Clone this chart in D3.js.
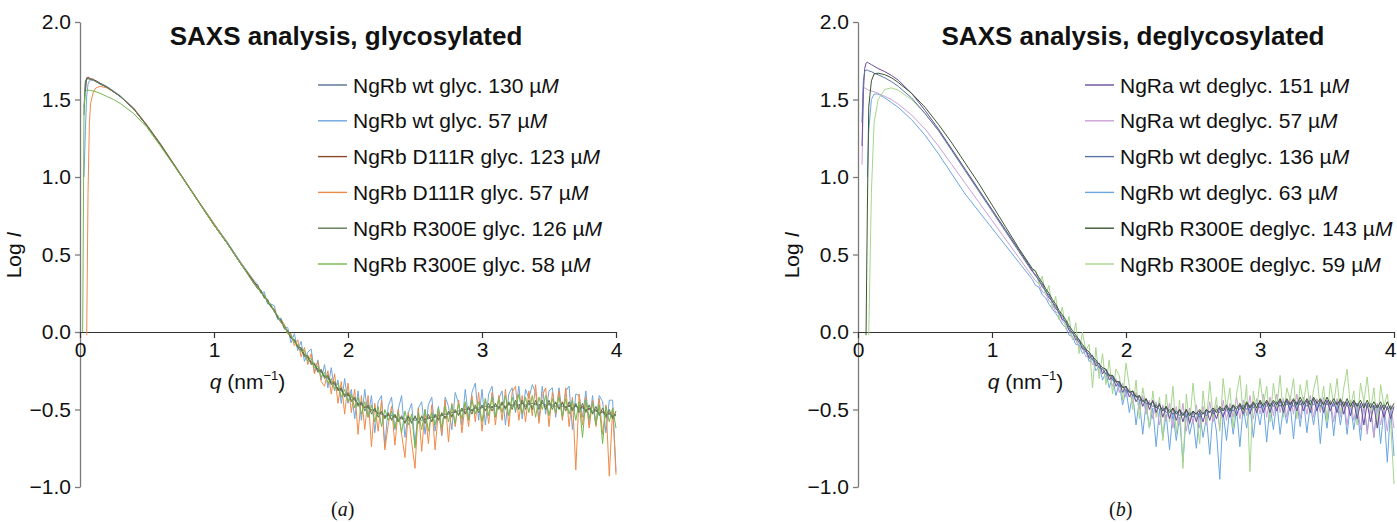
<!DOCTYPE html>
<html><head><meta charset="utf-8">
<script src="https://cdn.jsdelivr.net/npm/d3@7"></script>
<style>
body{margin:0;background:#fff}
text{font-family:"Liberation Sans",Arial,Helvetica,sans-serif;fill:#111}
</style>
</head><body>
<svg id="chart" width="1397" height="522"></svg>
<script>
// ---------- DATA ----------
const qValues = [
0.02,0.03,0.04,0.05,0.06,0.07,0.08,0.1,0.12,0.15,0.2,0.25,
0.3,0.4,0.5,0.6,0.7,0.8,0.9,1.0,1.1,1.2,1.3,
1.325,1.35,1.375,1.4,1.425,1.45,1.475,1.5,1.525,1.55,
1.575,1.6,1.625,1.65,1.675,1.7,1.725,1.75,1.775,1.8,
1.825,1.85,1.875,1.9,1.925,1.95,1.975,2.0,2.025,2.05,
2.075,2.1,2.125,2.15,2.175,2.2,2.225,2.25,2.275,2.3,
2.325,2.35,2.375,2.4,2.425,2.45,2.475,2.5,2.525,2.55,
2.575,2.6,2.625,2.65,2.675,2.7,2.725,2.75,2.775,2.8,
2.825,2.85,2.875,2.9,2.925,2.95,2.975,3.0,3.025,3.05,
3.075,3.1,3.125,3.15,3.175,3.2,3.225,3.25,3.275,3.3,
3.325,3.35,3.375,3.4,3.425,3.45,3.475,3.5,3.525,3.55,
3.575,3.6,3.625,3.65,3.675,3.7,3.725,3.75,3.775,3.8,
3.825,3.85,3.875,3.9,3.925,3.95,3.975,4.0];

// Panel (a) glycosylated
const glycWt130 = [
null,1.45,1.62,1.635,1.635,1.63,1.63,1.625,1.615,1.60,1.58,1.55,
1.52,1.44,1.33,1.21,1.08,0.95,0.82,0.69,0.57,0.44,0.32,
0.29,0.26,0.23,0.20,0.17,0.13,0.10,0.07,0.03,0.00,
-0.03,-0.06,-0.09,-0.12,-0.14,-0.17,-0.19,-0.21,-0.24,-0.26,
-0.28,-0.30,-0.32,-0.34,-0.36,-0.38,-0.40,-0.41,-0.42,-0.44,
-0.46,-0.47,-0.48,-0.49,-0.50,-0.51,-0.52,-0.53,-0.54,-0.54,
-0.54,-0.55,-0.56,-0.56,-0.56,-0.57,-0.56,-0.57,-0.56,-0.57,
-0.56,-0.56,-0.55,-0.55,-0.54,-0.54,-0.53,-0.53,-0.52,-0.52,
-0.51,-0.51,-0.50,-0.50,-0.50,-0.49,-0.49,-0.49,-0.48,-0.49,
-0.48,-0.48,-0.48,-0.47,-0.48,-0.47,-0.47,-0.47,-0.47,-0.46,
-0.47,-0.47,-0.46,-0.47,-0.47,-0.46,-0.47,-0.47,-0.47,-0.48,
-0.47,-0.48,-0.48,-0.48,-0.49,-0.48,-0.49,-0.49,-0.50,-0.50,
-0.51,-0.51,-0.52,-0.52,-0.53,-0.53,-0.54,-0.54];
const glycWt57 = [
null,1.00,1.30,1.52,1.60,1.62,1.625,1.625,1.62,1.605,1.585,1.555,
1.525,1.445,1.335,1.215,1.085,0.955,0.825,0.70,0.58,0.45,0.33,
0.31,0.25,0.26,0.18,0.18,0.17,0.08,0.09,0.03,0.03,
-0.07,-0.01,-0.12,-0.06,-0.19,-0.13,-0.11,-0.26,-0.18,-0.31,
-0.21,-0.36,-0.23,-0.38,-0.31,-0.46,-0.30,-0.46,-0.37,-0.56,
-0.38,-0.57,-0.37,-0.55,-0.41,-0.65,-0.45,-0.41,-0.74,-0.48,
-0.42,-0.63,-0.50,-0.41,-0.68,-0.52,-0.46,-0.73,-0.49,-0.45,
-0.66,-0.47,-0.42,-0.64,-0.48,-0.67,-0.42,-0.48,-0.63,-0.39,
-0.46,-0.60,-0.37,-0.56,-0.39,-0.33,-0.57,-0.37,-0.60,-0.40,
-0.35,-0.55,-0.43,-0.38,-0.60,-0.40,-0.36,-0.52,-0.35,-0.56,
-0.37,-0.43,-0.34,-0.39,-0.57,-0.35,-0.53,-0.38,-0.36,-0.55,
-0.36,-0.55,-0.38,-0.35,-0.63,-0.40,-0.41,-0.55,-0.38,-0.60,
-0.41,-0.59,-0.41,-0.45,-0.65,-0.44,-0.44,-0.90];
const glycD111R123 = [
null,null,1.55,1.64,1.645,1.64,1.635,1.63,1.62,1.605,1.58,1.55,
1.52,1.44,1.33,1.21,1.08,0.95,0.82,0.69,0.57,0.44,0.32,
0.30,0.26,0.24,0.19,0.17,0.14,0.10,0.06,0.04,0.00,
-0.04,-0.05,-0.10,-0.11,-0.15,-0.16,-0.20,-0.21,-0.25,-0.25,
-0.29,-0.29,-0.33,-0.33,-0.37,-0.37,-0.41,-0.40,-0.44,-0.43,
-0.47,-0.46,-0.49,-0.48,-0.51,-0.50,-0.53,-0.52,-0.55,-0.53,
-0.56,-0.54,-0.57,-0.55,-0.58,-0.55,-0.58,-0.55,-0.58,-0.55,
-0.57,-0.55,-0.57,-0.54,-0.56,-0.53,-0.55,-0.52,-0.54,-0.51,
-0.53,-0.50,-0.52,-0.49,-0.51,-0.49,-0.50,-0.48,-0.50,-0.48,
-0.49,-0.47,-0.49,-0.46,-0.49,-0.46,-0.48,-0.46,-0.48,-0.46,
-0.48,-0.46,-0.48,-0.46,-0.48,-0.46,-0.48,-0.46,-0.48,-0.46,
-0.49,-0.46,-0.49,-0.47,-0.50,-0.47,-0.50,-0.48,-0.51,-0.49,
-0.52,-0.50,-0.53,-0.51,-0.54,-0.52,-0.55,-0.53];
const glycD111R57 = [
null,null,null,-0.02,0.90,1.35,1.48,1.55,1.575,1.585,1.575,1.55,
1.52,1.445,1.335,1.215,1.085,0.955,0.825,0.70,0.575,0.445,0.325,
0.28,0.27,0.22,0.21,0.16,0.15,0.09,0.08,0.05,-0.01,
-0.01,-0.09,-0.05,-0.16,-0.10,-0.21,-0.14,-0.27,-0.19,-0.32,
-0.35,-0.25,-0.40,-0.27,-0.46,-0.32,-0.53,-0.33,-0.52,-0.37,
-0.66,-0.41,-0.63,-0.41,-0.74,-0.46,-0.64,-0.44,-0.76,-0.60,
-0.48,-0.73,-0.50,-0.66,-0.81,-0.52,-0.71,-0.88,-0.49,-0.77,
-0.50,-0.72,-0.47,-0.76,-0.51,-0.66,-0.44,-0.71,-0.46,-0.61,
-0.44,-0.65,-0.46,-0.61,-0.41,-0.58,-0.39,-0.64,-0.43,-0.59,
-0.39,-0.60,-0.41,-0.57,-0.37,-0.61,-0.39,-0.35,-0.57,-0.41,
-0.58,-0.38,-0.54,-0.34,-0.59,-0.41,-0.36,-0.61,-0.39,-0.53,
-0.38,-0.57,-0.36,-0.61,-0.42,-0.89,-0.40,-0.60,-0.42,-0.62,
-0.44,-0.61,-0.43,-0.66,-0.47,-0.93,-0.49,-0.92];
const glycR300E126 = [
null,1.40,1.60,1.63,1.635,1.635,1.63,1.625,1.615,1.60,1.58,1.55,
1.52,1.44,1.33,1.21,1.08,0.95,0.82,0.69,0.57,0.44,0.31,
0.28,0.27,0.22,0.21,0.16,0.14,0.09,0.08,0.02,0.01,
-0.04,-0.05,-0.10,-0.10,-0.16,-0.15,-0.21,-0.20,-0.26,-0.24,
-0.30,-0.28,-0.34,-0.32,-0.38,-0.36,-0.42,-0.39,-0.45,-0.42,
-0.48,-0.45,-0.51,-0.47,-0.53,-0.49,-0.55,-0.51,-0.56,-0.52,
-0.57,-0.53,-0.58,-0.54,-0.59,-0.54,-0.59,-0.54,-0.59,-0.54,
-0.59,-0.53,-0.58,-0.53,-0.57,-0.52,-0.56,-0.51,-0.55,-0.50,
-0.54,-0.49,-0.53,-0.48,-0.53,-0.47,-0.52,-0.47,-0.51,-0.46,
-0.51,-0.46,-0.50,-0.45,-0.50,-0.45,-0.50,-0.44,-0.50,-0.44,
-0.50,-0.44,-0.50,-0.44,-0.50,-0.44,-0.50,-0.44,-0.50,-0.45,
-0.50,-0.45,-0.51,-0.45,-0.51,-0.46,-0.52,-0.46,-0.52,-0.47,
-0.53,-0.48,-0.54,-0.49,-0.55,-0.50,-0.56,-0.51];
const glycR300E58 = [
0.00,1.45,1.55,1.56,1.56,1.56,1.558,1.555,1.55,1.54,1.52,1.50,
1.475,1.41,1.32,1.20,1.075,0.95,0.82,0.69,0.57,0.44,0.31,
0.29,0.25,0.24,0.19,0.18,0.13,0.11,0.06,0.04,-0.01,
-0.02,-0.07,-0.08,-0.13,-0.12,-0.19,-0.17,-0.23,-0.22,-0.29,
-0.26,-0.33,-0.30,-0.37,-0.33,-0.42,-0.37,-0.45,-0.40,-0.49,
-0.42,-0.53,-0.45,-0.55,-0.47,-0.58,-0.48,-0.61,-0.50,-0.57,
-0.51,-0.62,-0.52,-0.65,-0.51,-0.60,-0.53,-0.75,-0.52,-0.63,
-0.50,-0.64,-0.52,-0.60,-0.49,-0.62,-0.48,-0.58,-0.47,-0.59,
-0.46,-0.56,-0.45,-0.57,-0.44,-0.53,-0.45,-0.58,-0.43,-0.54,
-0.42,-0.55,-0.43,-0.52,-0.41,-0.54,-0.42,-0.51,-0.40,-0.53,
-0.42,-0.52,-0.41,-0.55,-0.42,-0.50,-0.41,-0.54,-0.43,-0.52,
-0.42,-0.55,-0.43,-0.53,-0.44,-0.57,-0.45,-0.68,-0.44,-0.56,
-0.46,-0.60,-0.47,-0.72,-0.48,-0.58,-0.49,-0.62];

// Panel (b) deglycosylated
const deglycNgRa151 = [
null,1.20,1.55,1.70,1.735,1.74,1.735,1.725,1.715,1.70,1.68,1.655,
1.625,1.54,1.43,1.31,1.18,1.05,0.92,0.79,0.66,0.53,0.40,
0.36,0.34,0.29,0.27,0.22,0.20,0.15,0.13,0.08,0.07,
0.01,0.00,-0.05,-0.05,-0.11,-0.11,-0.17,-0.15,-0.22,-0.20,
-0.27,-0.24,-0.31,-0.28,-0.35,-0.32,-0.39,-0.35,-0.42,-0.38,
-0.45,-0.41,-0.48,-0.43,-0.50,-0.44,-0.52,-0.46,-0.55,-0.48,
-0.56,-0.49,-0.57,-0.50,-0.58,-0.50,-0.59,-0.51,-0.58,-0.51,
-0.58,-0.50,-0.57,-0.50,-0.56,-0.49,-0.55,-0.48,-0.55,-0.47,
-0.54,-0.47,-0.53,-0.46,-0.53,-0.46,-0.52,-0.45,-0.52,-0.45,
-0.52,-0.45,-0.51,-0.44,-0.52,-0.44,-0.51,-0.44,-0.51,-0.44,
-0.51,-0.44,-0.52,-0.43,-0.51,-0.44,-0.52,-0.44,-0.51,-0.45,
-0.52,-0.44,-0.53,-0.45,-0.54,-0.45,-0.56,-0.46,-0.60,-0.46,
-0.58,-0.47,-0.62,-0.47,-0.55,-0.48,-0.56,-0.48];
const deglycNgRa57 = [
null,1.08,1.57,1.575,1.57,1.565,1.56,1.555,1.55,1.54,1.52,1.50,
1.47,1.40,1.31,1.20,1.08,0.96,0.84,0.72,0.60,0.48,0.36,
0.33,0.31,0.26,0.25,0.20,0.18,0.13,0.12,0.07,0.05,
0.01,-0.04,-0.05,-0.10,-0.10,-0.16,-0.15,-0.21,-0.20,-0.26,
-0.23,-0.30,-0.27,-0.35,-0.30,-0.39,-0.33,-0.42,-0.36,-0.46,
-0.39,-0.50,-0.41,-0.53,-0.44,-0.56,-0.45,-0.60,-0.47,-0.57,
-0.46,-0.62,-0.48,-0.60,-0.46,-0.64,-0.49,-0.59,-0.47,-0.62,
-0.48,-0.60,-0.45,-0.58,-0.47,-0.62,-0.44,-0.57,-0.46,-0.55,
-0.42,-0.56,-0.44,-0.54,-0.41,-0.56,-0.43,-0.53,-0.40,-0.55,
-0.42,-0.54,-0.40,-0.52,-0.43,-0.55,-0.41,-0.53,-0.40,-0.56,
-0.42,-0.53,-0.41,-0.55,-0.43,-0.52,-0.42,-0.56,-0.44,-0.58,
-0.43,-0.55,-0.45,-0.60,-0.44,-0.57,-0.46,-0.63,-0.45,-0.66,
-0.47,-0.68,-0.46,-0.60,-0.48,-0.64,-0.47,-0.62];
const deglycNgRb136 = [
null,1.35,1.62,1.68,1.69,1.69,1.685,1.68,1.67,1.66,1.64,1.615,
1.585,1.51,1.41,1.30,1.17,1.04,0.91,0.78,0.65,0.52,0.39,
0.37,0.33,0.31,0.26,0.24,0.19,0.17,0.12,0.10,0.06,
0.03,-0.01,-0.03,-0.07,-0.09,-0.13,-0.14,-0.18,-0.19,-0.23,
-0.24,-0.27,-0.28,-0.31,-0.32,-0.35,-0.35,-0.38,-0.38,-0.41,
-0.41,-0.44,-0.44,-0.46,-0.46,-0.48,-0.47,-0.50,-0.49,-0.52,
-0.50,-0.53,-0.51,-0.54,-0.52,-0.55,-0.52,-0.55,-0.52,-0.55,
-0.52,-0.54,-0.51,-0.53,-0.50,-0.52,-0.49,-0.51,-0.49,-0.51,
-0.48,-0.50,-0.47,-0.50,-0.47,-0.49,-0.46,-0.49,-0.46,-0.48,
-0.46,-0.48,-0.45,-0.48,-0.45,-0.47,-0.45,-0.48,-0.45,-0.47,
-0.45,-0.48,-0.44,-0.47,-0.45,-0.48,-0.45,-0.47,-0.45,-0.48,
-0.45,-0.47,-0.45,-0.48,-0.46,-0.48,-0.46,-0.49,-0.46,-0.49,
-0.46,-0.50,-0.47,-0.50,-0.47,-0.50,-0.48,-0.50];
const deglycNgRb63 = [
null,null,null,null,null,1.00,1.30,1.50,1.535,1.535,1.51,1.48,
1.45,1.37,1.27,1.15,1.02,0.89,0.78,0.67,0.56,0.45,0.34,
0.30,0.29,0.24,0.22,0.18,0.15,0.12,0.09,0.05,0.03,
-0.02,-0.03,-0.08,-0.08,-0.14,-0.12,-0.19,-0.17,-0.25,-0.22,
-0.31,-0.26,-0.36,-0.29,-0.41,-0.33,-0.47,-0.37,-0.52,-0.40,
-0.60,-0.44,-0.66,-0.46,-0.62,-0.49,-0.74,-0.50,-0.68,-0.53,
-0.76,-0.52,-0.70,-0.55,-0.84,-0.53,-0.66,-0.56,-0.75,-0.52,
-0.68,-0.55,-0.79,-0.51,-0.64,-0.95,-0.52,-0.70,-0.49,-0.66,
-0.50,-0.74,-0.48,-0.62,-0.47,-0.68,-0.49,-0.60,-0.46,-0.71,
-0.47,-0.63,-0.45,-0.66,-0.48,-0.59,-0.46,-0.69,-0.45,-0.61,
-0.44,-0.65,-0.47,-0.60,-0.45,-0.72,-0.46,-0.62,-0.44,-0.67,
-0.46,-0.60,-0.45,-0.66,-0.47,-0.63,-0.48,-0.70,-0.46,-0.64,
-0.49,-0.68,-0.47,-0.72,-0.50,-0.84,-0.49,-0.80];
const deglycR300E143 = [
null,null,null,null,-0.02,0.80,1.45,1.62,1.665,1.67,1.66,1.64,
1.61,1.54,1.45,1.34,1.22,1.09,0.96,0.82,0.68,0.54,0.41,
0.39,0.35,0.32,0.28,0.25,0.21,0.18,0.14,0.11,0.08,
0.04,0.01,-0.02,-0.05,-0.08,-0.11,-0.13,-0.16,-0.18,-0.21,
-0.23,-0.24,-0.28,-0.28,-0.32,-0.32,-0.36,-0.35,-0.39,-0.38,
-0.42,-0.41,-0.45,-0.43,-0.47,-0.45,-0.49,-0.47,-0.51,-0.48,
-0.52,-0.49,-0.53,-0.50,-0.54,-0.50,-0.54,-0.51,-0.53,-0.50,
-0.53,-0.50,-0.52,-0.49,-0.52,-0.48,-0.51,-0.47,-0.51,-0.47,
-0.50,-0.46,-0.50,-0.45,-0.49,-0.45,-0.49,-0.44,-0.48,-0.44,
-0.48,-0.44,-0.47,-0.43,-0.48,-0.43,-0.47,-0.43,-0.47,-0.42,
-0.47,-0.43,-0.47,-0.42,-0.46,-0.43,-0.47,-0.42,-0.47,-0.43,
-0.47,-0.43,-0.48,-0.43,-0.48,-0.44,-0.48,-0.44,-0.49,-0.44,
-0.49,-0.45,-0.49,-0.45,-0.50,-0.45,-0.50,-0.46];
const deglycR300E59 = [
null,null,null,null,null,null,-0.02,0.90,1.35,1.50,1.565,1.575,
1.56,1.50,1.41,1.30,1.18,1.05,0.92,0.79,0.66,0.53,0.40,
0.40,0.31,0.36,0.24,0.30,0.15,0.23,0.08,0.16,0.02,
0.10,-0.05,0.06,-0.14,0.00,-0.12,-0.08,-0.36,-0.10,-0.30,
-0.14,-0.34,-0.18,-0.40,-0.24,-0.28,-0.44,-0.20,-0.35,-0.50,
-0.31,-0.56,-0.36,-0.48,-0.62,-0.38,-0.55,-0.42,-0.70,-0.40,
-0.58,-0.35,-0.66,-0.44,-0.88,-0.40,-0.60,-0.33,-0.54,-0.72,
-0.38,-0.58,-0.32,-0.55,-0.42,-0.64,-0.30,-0.50,-0.36,-0.62,
-0.40,-0.28,-0.54,-0.34,-0.90,-0.38,-0.52,-0.30,-0.47,-0.35,
-0.58,-0.33,-0.49,-0.28,-0.55,-0.36,-0.44,-0.30,-0.56,-0.34,
-0.46,-0.31,-0.52,-0.37,-0.28,-0.50,-0.35,-0.58,-0.33,-0.47,
-0.30,-0.53,-0.36,-0.24,-0.49,-0.38,-0.60,-0.33,-0.45,-0.29,
-0.51,-0.36,-0.62,-0.34,-0.48,-0.40,-0.58,-0.98];

const glycLabels = ["NgRb wt glyc. 130 µM","NgRb wt glyc. 57 µM","NgRb D111R glyc. 123 µM",
                    "NgRb D111R glyc. 57 µM","NgRb R300E glyc. 126 µM","NgRb R300E glyc. 58 µM"];
const deglycLabels = ["NgRa wt deglyc. 151 µM","NgRa wt deglyc. 57 µM","NgRb wt deglyc. 136 µM",
                      "NgRb wt deglyc. 63 µM","NgRb R300E deglyc. 143 µM","NgRb R300E deglyc. 59 µM"];
const glycValues = [glycWt130, glycWt57, glycD111R123, glycD111R57, glycR300E126, glycR300E58];
const deglycValues = [deglycNgRa151, deglycNgRa57, deglycNgRb136, deglycNgRb63, deglycR300E143, deglycR300E59];
const yTicks = [-1.0,-0.5,0.0,0.5,1.0,1.5,2.0];
const xTicks = [0,1,2,3,4];

// ---------- STYLE / LAYOUT ----------
const glycColors = ["#56708f","#6ea6dc","#8c4a2c","#f08a48","#5c7a50","#74b850"];
const deglycColors = ["#6c4c9c","#c8a0d4","#5b74a2","#6aa6e0","#3a5830","#a6d68c"];
const glycDrawOrder = [1,3,0,2,4,5];
const deglycDrawOrder = [3,1,5,0,2,4];

const svg = d3.select("#chart");
const yScale = d3.scaleLinear().domain([-1,2]).range([487,22]);

function drawPanel(o){
  const x = d3.scaleLinear().domain([0,4]).range([o.x0, o.x0+536]);
  const g = svg.append("g");
  // y axis
  const ya = g.append("g").attr("transform",`translate(${o.x0},0)`)
    .call(d3.axisLeft(yScale).tickValues(yTicks).tickFormat(d3.format(".1f")).tickSize(5).tickSizeOuter(0).tickPadding(4));
  ya.select(".domain").attr("stroke","#7a7a7a").attr("stroke-width",1.3);
  ya.selectAll(".tick line").attr("stroke","#7a7a7a").attr("stroke-width",1.3);
  ya.selectAll(".tick text").style("font-size","21px").attr("fill","#111");
  // x axis
  const xa = g.append("g").attr("transform",`translate(0,${yScale(0)})`)
    .call(d3.axisBottom(x).tickValues(xTicks).tickFormat(d3.format("d")).tickSize(6).tickSizeOuter(0).tickPadding(4));
  xa.select(".domain").attr("stroke","#333").attr("stroke-width",1.2);
  xa.selectAll(".tick line").attr("stroke","#333").attr("stroke-width",1.2);
  xa.selectAll(".tick text").style("font-size","21px").attr("fill","#111");
  if (o.lastTickShift) xa.selectAll(".tick text").filter(d => d === 4).attr("dx", o.lastTickShift);

  // curves
  const line = d3.line().defined(d => d[1] != null).x(d => x(d[0])).y(d => yScale(d[1]));
  o.order.forEach(i => {
    const pts = qValues.map((q,k) => [q, o.values[i][k] === undefined ? null : o.values[i][k]]);
    g.append("path").attr("d", line(pts)).attr("fill","none")
      .attr("stroke", o.colors[i]).attr("stroke-width",1).attr("stroke-linejoin","round");
  });

  // title
  g.append("text").attr("x",o.titleX).attr("y",45).attr("text-anchor","middle")
    .style("font-size","26px").style("font-weight","bold").text(o.title);

  // legend
  o.labels.forEach((lab,i) => {
    const ly = 85 + i*35.8;
    g.append("line").attr("x1",o.legX).attr("x2",o.legX+29).attr("y1",ly).attr("y2",ly)
      .attr("stroke",o.colors[i]).attr("stroke-width",1.4);
    const t = g.append("text").attr("x",o.legX+35).attr("y",ly).attr("dy","0.36em").style("font-size","21px");
    t.append("tspan").text(lab.slice(0,-1));
    t.append("tspan").style("font-style","italic").text(lab.slice(-1));
  });

  // y label
  const yl = g.append("text").attr("transform",`translate(${o.x0-59},255) rotate(-90)`)
    .attr("text-anchor","middle").style("font-size","21px");
  yl.append("tspan").text("Log ");
  yl.append("tspan").style("font-style","italic").text("I");

  // x label
  const xl = g.append("text").attr("x",x(1.25)).attr("y",389).attr("text-anchor","middle").style("font-size","21px");
  xl.append("tspan").style("font-style","italic").text("q");
  xl.append("tspan").text(" (nm");
  xl.append("tspan").attr("dy",-9).style("font-size","13px").text("−1");
  xl.append("tspan").attr("dy",9).text(")");

  // panel caption
  const cap = g.append("text").attr("x",x(1.96)).attr("y",516).attr("text-anchor","middle")
    .style("font-size","20px").style("font-family","'Liberation Serif','Times New Roman',serif");
  cap.append("tspan").text("(");
  cap.append("tspan").style("font-style","italic").text(o.caption);
  cap.append("tspan").text(")");
}

drawPanel({x0:80, values:glycValues, colors:glycColors, order:glycDrawOrder, labels:glycLabels,
  title:"SAXS analysis, glycosylated", titleX:346, legX:318, caption:"a"});
drawPanel({x0:858, values:deglycValues, colors:deglycColors, order:deglycDrawOrder, labels:deglycLabels,
  title:"SAXS analysis, deglycosylated", titleX:1133, legX:1085, caption:"b", lastTickShift:-4});
</script>
</body></html>
